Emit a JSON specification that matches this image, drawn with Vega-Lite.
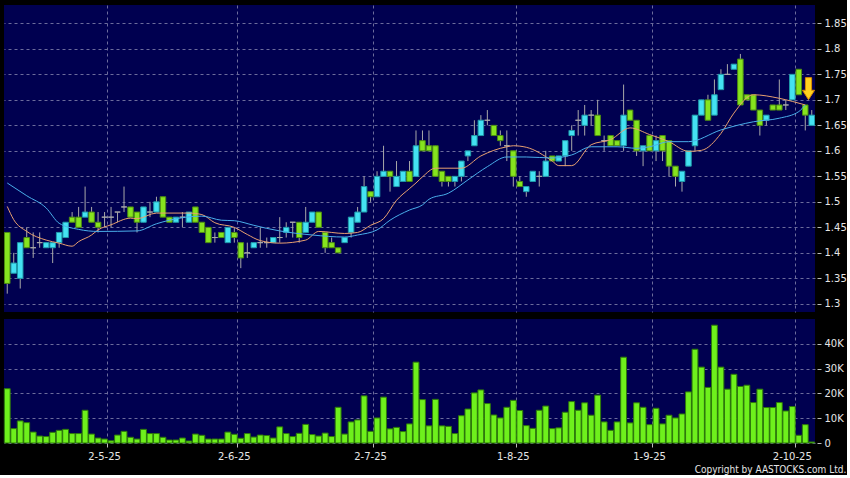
{
"$schema":"https://vega.github.io/schema/vega-lite/v6.json",
"background":"#000000",
"padding":{"left":3,"top":5,"right":0,"bottom":0},
"spacing":7,
"config":{"view":{"fill":"#000050","stroke":null},
"axis":{"labelFont":"DejaVu Sans","labelFontSize":10,"labelColor":"#e6e6e6","gridColor":"#6c6c9c","gridDash":[3,3],"gridWidth":1,"gridOpacity":1,"domain":false,"tickColor":"#bbbbbb","title":null,"labelOverlap":false}},
"title":{"text":"Copyright by AASTOCKS.com Ltd.","orient":"bottom","anchor":"end","font":"DejaVu Sans Condensed","fontSize":10,"fontWeight":"normal","color":"#e6e6e6","offset":4,"frame":"bounds"},
"datasets":{
"k":[
{"date":"2025-04-08","o":1.44,"h":1.44,"l":1.32,"c":1.34,"v":21900},
{"date":"2025-04-09","o":1.36,"h":1.40,"l":1.36,"c":1.38,"v":5800},
{"date":"2025-04-10","o":1.35,"h":1.42,"l":1.33,"c":1.42,"v":8900},
{"date":"2025-04-11","o":1.43,"h":1.45,"l":1.41,"c":1.41,"v":8200},
{"date":"2025-04-14","o":1.41,"h":1.44,"l":1.39,"c":1.41,"v":4400},
{"date":"2025-04-15","o":1.42,"h":1.44,"l":1.41,"c":1.42,"v":2800},
{"date":"2025-04-16","o":1.41,"h":1.42,"l":1.41,"c":1.42,"v":2600},
{"date":"2025-04-17","o":1.41,"h":1.42,"l":1.38,"c":1.42,"v":4300},
{"date":"2025-04-22","o":1.42,"h":1.44,"l":1.41,"c":1.44,"v":5100},
{"date":"2025-04-23","o":1.43,"h":1.46,"l":1.43,"c":1.46,"v":5500},
{"date":"2025-04-24","o":1.47,"h":1.48,"l":1.46,"c":1.46,"v":3800},
{"date":"2025-04-25","o":1.47,"h":1.49,"l":1.45,"c":1.45,"v":3800},
{"date":"2025-04-28","o":1.47,"h":1.53,"l":1.47,"c":1.48,"v":13200},
{"date":"2025-04-29","o":1.48,"h":1.49,"l":1.46,"c":1.46,"v":3600},
{"date":"2025-04-30","o":1.46,"h":1.48,"l":1.44,"c":1.45,"v":2000},
{"date":"2025-05-02","o":1.47,"h":1.48,"l":1.45,"c":1.47,"v":1600},
{"date":"2025-05-06","o":1.47,"h":1.49,"l":1.45,"c":1.47,"v":900},
{"date":"2025-05-07","o":1.48,"h":1.48,"l":1.46,"c":1.48,"v":3200},
{"date":"2025-05-08","o":1.49,"h":1.53,"l":1.48,"c":1.49,"v":4700},
{"date":"2025-05-09","o":1.49,"h":1.49,"l":1.47,"c":1.47,"v":2300},
{"date":"2025-05-12","o":1.48,"h":1.48,"l":1.44,"c":1.46,"v":1600},
{"date":"2025-05-13","o":1.46,"h":1.49,"l":1.46,"c":1.49,"v":5500},
{"date":"2025-05-14","o":1.48,"h":1.50,"l":1.47,"c":1.48,"v":3800},
{"date":"2025-05-15","o":1.48,"h":1.51,"l":1.48,"c":1.50,"v":3800},
{"date":"2025-05-16","o":1.51,"h":1.51,"l":1.47,"c":1.47,"v":2300},
{"date":"2025-05-19","o":1.47,"h":1.47,"l":1.46,"c":1.46,"v":1200},
{"date":"2025-05-20","o":1.46,"h":1.47,"l":1.46,"c":1.47,"v":1200},
{"date":"2025-05-21","o":1.47,"h":1.48,"l":1.45,"c":1.47,"v":2000},
{"date":"2025-05-22","o":1.46,"h":1.48,"l":1.46,"c":1.48,"v":800},
{"date":"2025-05-23","o":1.49,"h":1.49,"l":1.46,"c":1.46,"v":3600},
{"date":"2025-05-26","o":1.46,"h":1.46,"l":1.44,"c":1.44,"v":3100},
{"date":"2025-05-27","o":1.45,"h":1.45,"l":1.42,"c":1.42,"v":1600},
{"date":"2025-05-28","o":1.43,"h":1.44,"l":1.42,"c":1.43,"v":1600},
{"date":"2025-05-29","o":1.44,"h":1.44,"l":1.43,"c":1.43,"v":1600},
{"date":"2025-05-30","o":1.42,"h":1.45,"l":1.42,"c":1.45,"v":4400},
{"date":"2025-06-02","o":1.44,"h":1.45,"l":1.42,"c":1.43,"v":3500},
{"date":"2025-06-03","o":1.42,"h":1.42,"l":1.37,"c":1.39,"v":1900},
{"date":"2025-06-04","o":1.40,"h":1.42,"l":1.39,"c":1.40,"v":3800},
{"date":"2025-06-05","o":1.41,"h":1.42,"l":1.41,"c":1.42,"v":2400},
{"date":"2025-06-06","o":1.42,"h":1.45,"l":1.41,"c":1.42,"v":3200},
{"date":"2025-06-09","o":1.42,"h":1.43,"l":1.41,"c":1.42,"v":3000},
{"date":"2025-06-10","o":1.42,"h":1.43,"l":1.42,"c":1.43,"v":2000},
{"date":"2025-06-11","o":1.43,"h":1.47,"l":1.42,"c":1.43,"v":6500},
{"date":"2025-06-12","o":1.44,"h":1.46,"l":1.43,"c":1.45,"v":3800},
{"date":"2025-06-13","o":1.46,"h":1.46,"l":1.43,"c":1.46,"v":2600},
{"date":"2025-06-16","o":1.46,"h":1.46,"l":1.42,"c":1.43,"v":3900},
{"date":"2025-06-17","o":1.44,"h":1.49,"l":1.44,"c":1.46,"v":7500},
{"date":"2025-06-18","o":1.46,"h":1.48,"l":1.46,"c":1.48,"v":3400},
{"date":"2025-06-19","o":1.48,"h":1.48,"l":1.45,"c":1.45,"v":2800},
{"date":"2025-06-20","o":1.44,"h":1.44,"l":1.40,"c":1.41,"v":4000},
{"date":"2025-06-23","o":1.42,"h":1.43,"l":1.41,"c":1.41,"v":2600},
{"date":"2025-06-24","o":1.41,"h":1.41,"l":1.40,"c":1.40,"v":14400},
{"date":"2025-06-25","o":1.42,"h":1.43,"l":1.42,"c":1.43,"v":3600},
{"date":"2025-06-26","o":1.44,"h":1.47,"l":1.43,"c":1.47,"v":8500},
{"date":"2025-06-27","o":1.46,"h":1.49,"l":1.46,"c":1.48,"v":9300},
{"date":"2025-06-30","o":1.48,"h":1.55,"l":1.48,"c":1.53,"v":19000},
{"date":"2025-07-02","o":1.52,"h":1.52,"l":1.50,"c":1.51,"v":4700},
{"date":"2025-07-03","o":1.51,"h":1.56,"l":1.51,"c":1.55,"v":10100},
{"date":"2025-07-04","o":1.55,"h":1.61,"l":1.55,"c":1.56,"v":18500},
{"date":"2025-07-07","o":1.56,"h":1.56,"l":1.52,"c":1.55,"v":5700},
{"date":"2025-07-08","o":1.53,"h":1.58,"l":1.53,"c":1.55,"v":6300},
{"date":"2025-07-09","o":1.54,"h":1.56,"l":1.54,"c":1.56,"v":4600},
{"date":"2025-07-10","o":1.56,"h":1.58,"l":1.54,"c":1.54,"v":7700},
{"date":"2025-07-11","o":1.55,"h":1.64,"l":1.55,"c":1.61,"v":32600},
{"date":"2025-07-14","o":1.62,"h":1.64,"l":1.60,"c":1.60,"v":17500},
{"date":"2025-07-15","o":1.61,"h":1.64,"l":1.60,"c":1.60,"v":6900},
{"date":"2025-07-16","o":1.61,"h":1.61,"l":1.55,"c":1.55,"v":17600},
{"date":"2025-07-17","o":1.56,"h":1.56,"l":1.53,"c":1.54,"v":6900},
{"date":"2025-07-18","o":1.55,"h":1.55,"l":1.53,"c":1.54,"v":6700},
{"date":"2025-07-21","o":1.54,"h":1.55,"l":1.53,"c":1.55,"v":3800},
{"date":"2025-07-22","o":1.55,"h":1.58,"l":1.54,"c":1.58,"v":11000},
{"date":"2025-07-23","o":1.59,"h":1.60,"l":1.58,"c":1.60,"v":13700},
{"date":"2025-07-24","o":1.61,"h":1.66,"l":1.61,"c":1.63,"v":20200},
{"date":"2025-07-25","o":1.63,"h":1.67,"l":1.63,"c":1.66,"v":21400},
{"date":"2025-07-28","o":1.66,"h":1.68,"l":1.65,"c":1.66,"v":15900},
{"date":"2025-07-29","o":1.65,"h":1.65,"l":1.63,"c":1.63,"v":11300},
{"date":"2025-07-30","o":1.63,"h":1.64,"l":1.61,"c":1.62,"v":10100},
{"date":"2025-07-31","o":1.61,"h":1.64,"l":1.58,"c":1.61,"v":14400},
{"date":"2025-08-01","o":1.60,"h":1.60,"l":1.53,"c":1.55,"v":17200},
{"date":"2025-08-04","o":1.54,"h":1.55,"l":1.53,"c":1.53,"v":13100},
{"date":"2025-08-05","o":1.52,"h":1.53,"l":1.51,"c":1.53,"v":7000},
{"date":"2025-08-06","o":1.54,"h":1.56,"l":1.54,"c":1.56,"v":5900},
{"date":"2025-08-07","o":1.55,"h":1.56,"l":1.53,"c":1.55,"v":13200},
{"date":"2025-08-08","o":1.55,"h":1.60,"l":1.55,"c":1.58,"v":14900},
{"date":"2025-08-11","o":1.59,"h":1.59,"l":1.58,"c":1.58,"v":5800},
{"date":"2025-08-12","o":1.58,"h":1.59,"l":1.58,"c":1.59,"v":6100},
{"date":"2025-08-13","o":1.59,"h":1.62,"l":1.57,"c":1.62,"v":12400},
{"date":"2025-08-14","o":1.63,"h":1.65,"l":1.60,"c":1.64,"v":16700},
{"date":"2025-08-15","o":1.66,"h":1.68,"l":1.63,"c":1.66,"v":13200},
{"date":"2025-08-18","o":1.65,"h":1.69,"l":1.63,"c":1.67,"v":16200},
{"date":"2025-08-19","o":1.67,"h":1.68,"l":1.65,"c":1.67,"v":11200},
{"date":"2025-08-20","o":1.67,"h":1.70,"l":1.63,"c":1.63,"v":19300},
{"date":"2025-08-21","o":1.62,"h":1.63,"l":1.60,"c":1.62,"v":8500},
{"date":"2025-08-22","o":1.63,"h":1.63,"l":1.61,"c":1.61,"v":5100},
{"date":"2025-08-25","o":1.62,"h":1.62,"l":1.61,"c":1.61,"v":8500},
{"date":"2025-08-26","o":1.61,"h":1.73,"l":1.60,"c":1.67,"v":34600},
{"date":"2025-08-27","o":1.68,"h":1.68,"l":1.66,"c":1.66,"v":8100},
{"date":"2025-08-28","o":1.66,"h":1.66,"l":1.59,"c":1.60,"v":16200},
{"date":"2025-08-29","o":1.60,"h":1.61,"l":1.57,"c":1.61,"v":14400},
{"date":"2025-09-01","o":1.63,"h":1.63,"l":1.60,"c":1.60,"v":7400},
{"date":"2025-09-02","o":1.60,"h":1.63,"l":1.58,"c":1.62,"v":14000},
{"date":"2025-09-03","o":1.63,"h":1.63,"l":1.58,"c":1.60,"v":7700},
{"date":"2025-09-04","o":1.62,"h":1.62,"l":1.55,"c":1.57,"v":11200},
{"date":"2025-09-05","o":1.57,"h":1.57,"l":1.53,"c":1.55,"v":10100},
{"date":"2025-09-08","o":1.54,"h":1.56,"l":1.52,"c":1.56,"v":11700},
{"date":"2025-09-09","o":1.57,"h":1.60,"l":1.57,"c":1.60,"v":20600},
{"date":"2025-09-10","o":1.61,"h":1.67,"l":1.60,"c":1.67,"v":37800},
{"date":"2025-09-11","o":1.67,"h":1.70,"l":1.67,"c":1.70,"v":30600},
{"date":"2025-09-12","o":1.70,"h":1.71,"l":1.66,"c":1.66,"v":22400},
{"date":"2025-09-15","o":1.67,"h":1.74,"l":1.67,"c":1.71,"v":47500},
{"date":"2025-09-16","o":1.72,"h":1.76,"l":1.72,"c":1.75,"v":30600},
{"date":"2025-09-17","o":1.75,"h":1.77,"l":1.75,"c":1.75,"v":21700},
{"date":"2025-09-18","o":1.76,"h":1.77,"l":1.76,"c":1.77,"v":27700},
{"date":"2025-09-19","o":1.78,"h":1.79,"l":1.69,"c":1.69,"v":22800},
{"date":"2025-09-22","o":1.71,"h":1.71,"l":1.70,"c":1.70,"v":23300},
{"date":"2025-09-23","o":1.71,"h":1.71,"l":1.68,"c":1.68,"v":16300},
{"date":"2025-09-24","o":1.68,"h":1.68,"l":1.63,"c":1.65,"v":21700},
{"date":"2025-09-25","o":1.66,"h":1.67,"l":1.65,"c":1.67,"v":14300},
{"date":"2025-09-26","o":1.69,"h":1.69,"l":1.68,"c":1.68,"v":14300},
{"date":"2025-09-29","o":1.69,"h":1.74,"l":1.68,"c":1.68,"v":16300},
{"date":"2025-09-30","o":1.69,"h":1.70,"l":1.68,"c":1.69,"v":12900},
{"date":"2025-10-02","o":1.70,"h":1.75,"l":1.70,"c":1.75,"v":14700},
{"date":"2025-10-03","o":1.76,"h":1.76,"l":1.71,"c":1.71,"v":3100},
{"date":"2025-10-06","o":1.69,"h":1.69,"l":1.64,"c":1.67,"v":7400},
{"date":"2025-10-08","o":1.65,"h":1.68,"l":1.65,"c":1.67,"v":400}
],
"ma":[
{"date":"2025-04-08","s":"MA10","v":1.491},{"date":"2025-04-09","s":"MA10","v":1.465},{"date":"2025-04-11","s":"MA10","v":1.442},{"date":"2025-04-16","s":"MA10","v":1.425},{"date":"2025-04-22","s":"MA10","v":1.419},{"date":"2025-04-24","s":"MA10","v":1.413},{"date":"2025-04-25","s":"MA10","v":1.422},{"date":"2025-04-29","s":"MA10","v":1.435},{"date":"2025-04-30","s":"MA10","v":1.445},{"date":"2025-05-06","s":"MA10","v":1.455},{"date":"2025-05-09","s":"MA10","v":1.468},{"date":"2025-05-12","s":"MA10","v":1.467},{"date":"2025-05-15","s":"MA10","v":1.478},{"date":"2025-05-22","s":"MA10","v":1.478},{"date":"2025-05-26","s":"MA10","v":1.475},{"date":"2025-05-28","s":"MA10","v":1.459},{"date":"2025-06-02","s":"MA10","v":1.450},{"date":"2025-06-04","s":"MA10","v":1.436},{"date":"2025-06-06","s":"MA10","v":1.424},{"date":"2025-06-11","s":"MA10","v":1.419},{"date":"2025-06-17","s":"MA10","v":1.425},{"date":"2025-06-19","s":"MA10","v":1.442},{"date":"2025-06-25","s":"MA10","v":1.438},{"date":"2025-06-27","s":"MA10","v":1.440},{"date":"2025-07-02","s":"MA10","v":1.454},{"date":"2025-07-04","s":"MA10","v":1.467},{"date":"2025-07-08","s":"MA10","v":1.503},{"date":"2025-07-10","s":"MA10","v":1.526},{"date":"2025-07-11","s":"MA10","v":1.537},{"date":"2025-07-14","s":"MA10","v":1.549},{"date":"2025-07-16","s":"MA10","v":1.566},{"date":"2025-07-22","s":"MA10","v":1.566},{"date":"2025-07-25","s":"MA10","v":1.590},{"date":"2025-07-31","s":"MA10","v":1.608},{"date":"2025-08-01","s":"MA10","v":1.610},{"date":"2025-08-05","s":"MA10","v":1.607},{"date":"2025-08-11","s":"MA10","v":1.580},{"date":"2025-08-12","s":"MA10","v":1.571},{"date":"2025-08-14","s":"MA10","v":1.571},{"date":"2025-08-19","s":"MA10","v":1.612},{"date":"2025-08-22","s":"MA10","v":1.622},{"date":"2025-08-27","s":"MA10","v":1.645},{"date":"2025-09-01","s":"MA10","v":1.632},{"date":"2025-09-04","s":"MA10","v":1.618},{"date":"2025-09-09","s":"MA10","v":1.599},{"date":"2025-09-11","s":"MA10","v":1.601},{"date":"2025-09-16","s":"MA10","v":1.634},{"date":"2025-09-18","s":"MA10","v":1.674},{"date":"2025-09-23","s":"MA10","v":1.710},{"date":"2025-09-29","s":"MA10","v":1.703},{"date":"2025-10-02","s":"MA10","v":1.697},{"date":"2025-10-06","s":"MA10","v":1.690},
{"date":"2025-04-08","s":"MA20","v":1.537},{"date":"2025-04-11","s":"MA20","v":1.512},{"date":"2025-04-16","s":"MA20","v":1.488},{"date":"2025-04-22","s":"MA20","v":1.458},{"date":"2025-04-25","s":"MA20","v":1.446},{"date":"2025-04-30","s":"MA20","v":1.442},{"date":"2025-05-12","s":"MA20","v":1.443},{"date":"2025-05-15","s":"MA20","v":1.457},{"date":"2025-05-19","s":"MA20","v":1.464},{"date":"2025-05-26","s":"MA20","v":1.472},{"date":"2025-05-29","s":"MA20","v":1.464},{"date":"2025-06-02","s":"MA20","v":1.463},{"date":"2025-06-05","s":"MA20","v":1.454},{"date":"2025-06-09","s":"MA20","v":1.448},{"date":"2025-06-11","s":"MA20","v":1.443},{"date":"2025-06-18","s":"MA20","v":1.435},{"date":"2025-06-25","s":"MA20","v":1.431},{"date":"2025-06-27","s":"MA20","v":1.435},{"date":"2025-07-03","s":"MA20","v":1.445},{"date":"2025-07-07","s":"MA20","v":1.464},{"date":"2025-07-10","s":"MA20","v":1.484},{"date":"2025-07-14","s":"MA20","v":1.494},{"date":"2025-07-15","s":"MA20","v":1.505},{"date":"2025-07-18","s":"MA20","v":1.517},{"date":"2025-07-23","s":"MA20","v":1.543},{"date":"2025-07-28","s":"MA20","v":1.569},{"date":"2025-07-31","s":"MA20","v":1.588},{"date":"2025-08-05","s":"MA20","v":1.588},{"date":"2025-08-11","s":"MA20","v":1.586},{"date":"2025-08-14","s":"MA20","v":1.592},{"date":"2025-08-19","s":"MA20","v":1.608},{"date":"2025-08-25","s":"MA20","v":1.608},{"date":"2025-08-28","s":"MA20","v":1.605},{"date":"2025-09-01","s":"MA20","v":1.608},{"date":"2025-09-04","s":"MA20","v":1.618},{"date":"2025-09-09","s":"MA20","v":1.618},{"date":"2025-09-16","s":"MA20","v":1.641},{"date":"2025-09-23","s":"MA20","v":1.657},{"date":"2025-09-29","s":"MA20","v":1.664},{"date":"2025-10-03","s":"MA20","v":1.677},{"date":"2025-10-06","s":"MA20","v":1.690}
],
"arrow":[{"date":"2025-10-06","p":1.722}]
},
"vconcat":[
{"width":811,"height":307,
"layer":[
{"data":{"name":"k"},"mark":{"type":"rule","color":"#a8a8a8","strokeWidth":1},
"encoding":{
"x":{"field":"date","type":"ordinal","scale":{"type":"band","paddingInner":0,"paddingOuter":0},
"axis":{"values":["2025-05-02","2025-06-02","2025-07-02","2025-08-01","2025-09-01","2025-10-02"],"bandPosition":1,"labels":false,"ticks":false,"grid":true}},
"y":{"field":"l","type":"quantitative","scale":{"domain":[1.284,1.886],"nice":false,"zero":false},
"axis":{"orient":"right","values":[1.3,1.35,1.4,1.45,1.5,1.55,1.6,1.65,1.7,1.75,1.8,1.85],"format":".2~f","tickSize":4,"offset":2,"labelPadding":3,"grid":true,"labelOverlap":false}},
"y2":{"field":"h"}}},
{"data":{"name":"k"},"mark":{"type":"bar","width":{"band":0.85},"strokeWidth":1},
"encoding":{
"x":{"field":"date","type":"ordinal",
"axis":{"values":["2025-05-02","2025-06-02","2025-07-02","2025-08-01","2025-09-01","2025-10-02"],"bandPosition":1,"labels":false,"ticks":false,"grid":true}},
"y":{"field":"o","type":"quantitative",
"axis":{"orient":"right","values":[1.3,1.35,1.4,1.45,1.5,1.55,1.6,1.65,1.7,1.75,1.8,1.85],"format":".2~f","tickSize":4,"offset":2,"labelPadding":3,"grid":true,"labelOverlap":false}},
"y2":{"field":"c"},
"fill":{"condition":[{"test":"datum.c>datum.o","value":"#44e2f2"},{"test":"datum.c==datum.o","value":"#a8a8a8"}],"value":"#86e41e"},
"stroke":{"condition":[{"test":"datum.c>datum.o","value":"#1f9aaa"},{"test":"datum.c==datum.o","value":"#a8a8a8"}],"value":"#4c8c12"}}},
{"data":{"name":"ma"},"mark":{"type":"line","strokeWidth":1,"interpolate":"monotone"},
"encoding":{
"x":{"field":"date","type":"ordinal",
"axis":{"values":["2025-05-02","2025-06-02","2025-07-02","2025-08-01","2025-09-01","2025-10-02"],"bandPosition":1,"labels":false,"ticks":false,"grid":true}},
"y":{"field":"v","type":"quantitative",
"axis":{"orient":"right","values":[1.3,1.35,1.4,1.45,1.5,1.55,1.6,1.65,1.7,1.75,1.8,1.85],"format":".2~f","tickSize":4,"offset":2,"labelPadding":3,"grid":true,"labelOverlap":false}},
"color":{"field":"s","type":"nominal","scale":{"domain":["MA10","MA20"],"range":["#e8a070","#4aaeea"]},"legend":null}}},
{"data":{"name":"arrow"},"mark":{"type":"point","shape":"M-0.28,-1L0.28,-1L0.28,0.15L0.55,0.15L0,1L-0.55,0.15L-0.28,0.15Z","size":484,"filled":true,"fill":"#ffd21f","stroke":"#d88a00","strokeWidth":1,"opacity":1},
"encoding":{
"x":{"field":"date","type":"ordinal","bandPosition":1,
"axis":{"values":["2025-05-02","2025-06-02","2025-07-02","2025-08-01","2025-09-01","2025-10-02"],"bandPosition":1,"labels":false,"ticks":false,"grid":true}},
"y":{"field":"p","type":"quantitative",
"axis":{"orient":"right","values":[1.3,1.35,1.4,1.45,1.5,1.55,1.6,1.65,1.7,1.75,1.8,1.85],"format":".2~f","tickSize":4,"offset":2,"labelPadding":3,"grid":true,"labelOverlap":false}}}}
]},
{"width":811,"height":124,
"data":{"name":"k"},
"mark":{"type":"bar","width":{"band":0.9},"fill":"#6ef01c","stroke":"#2e7a0a","strokeWidth":1},
"encoding":{
"x":{"field":"date","type":"ordinal","scale":{"type":"band","paddingInner":0,"paddingOuter":0},
"axis":{"values":["2025-05-02","2025-06-02","2025-07-02","2025-08-01","2025-09-01","2025-10-02"],"bandPosition":1,"labelAngle":0,"tickSize":4,"labelPadding":4,"grid":true,
"labelExpr":"toNumber(substring(datum.value,8,10)) + '-' + toNumber(substring(datum.value,5,7)) + '-' + substring(datum.value,2,4)"}},
"y":{"field":"v","type":"quantitative","scale":{"domain":[0,50000],"nice":false},
"axis":{"orient":"right","values":[0,10000,20000,30000,40000],"labelExpr":"datum.value==0?'0':(datum.value/1000)+'K'","tickSize":4,"offset":2,"labelPadding":3,"grid":true}}}}
]
}
